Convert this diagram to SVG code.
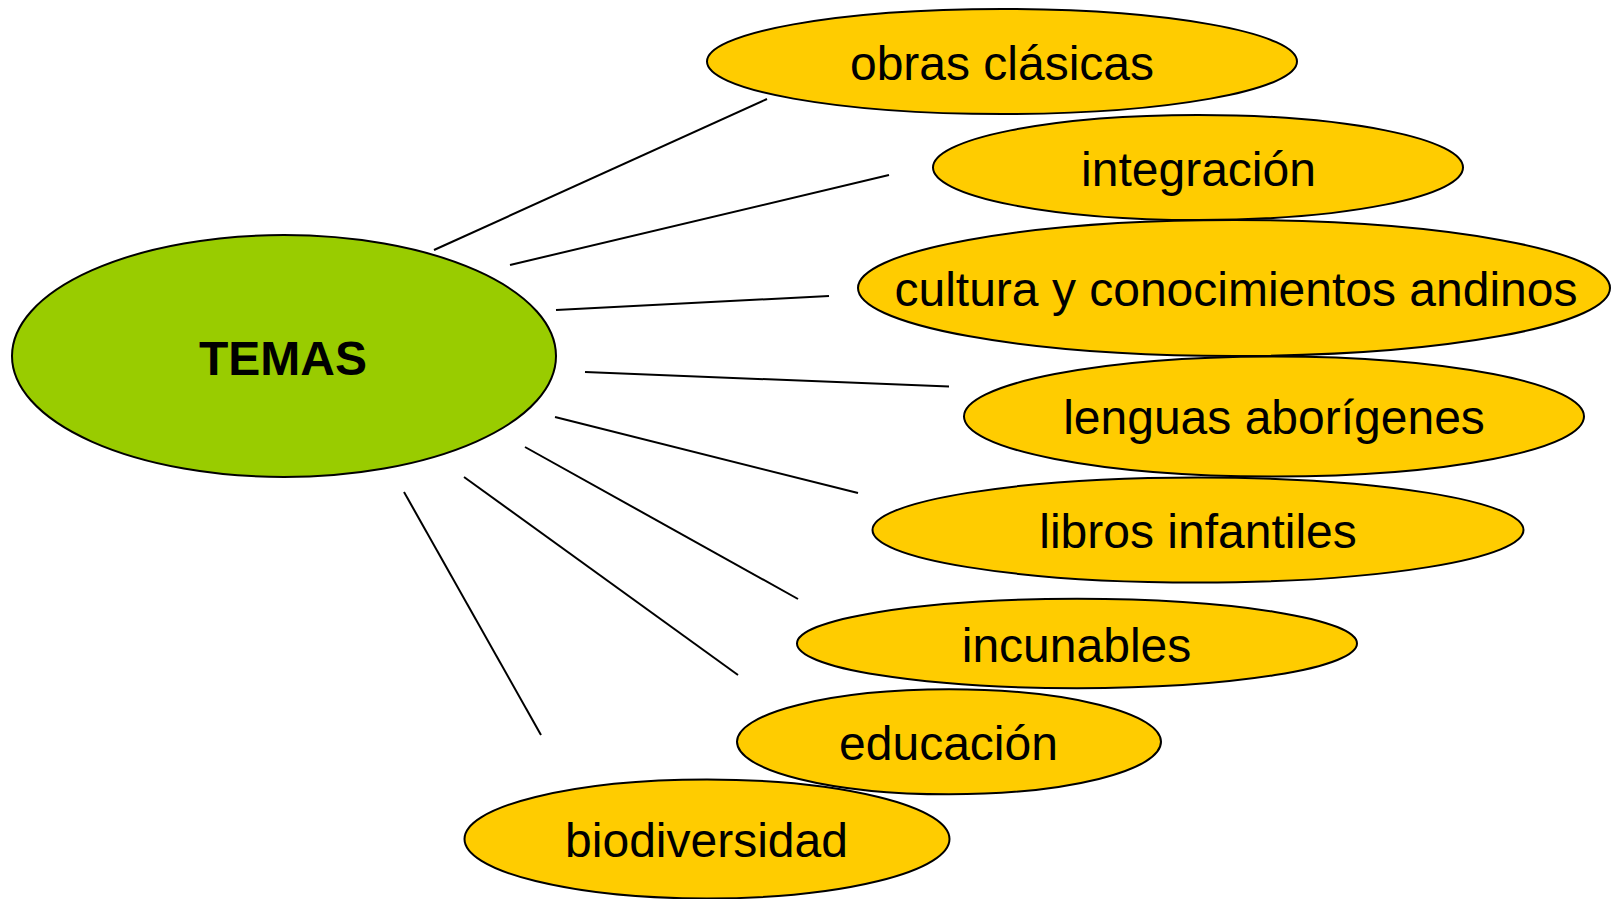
<svg xmlns="http://www.w3.org/2000/svg" width="1611" height="899" viewBox="0 0 1611 899">
<style>
.main{fill:#99CC00;stroke:#000;stroke-width:2}
.sub{fill:#FFCC00;stroke:#000;stroke-width:2}
.t{font-family:"Liberation Sans",Arial,sans-serif;font-size:48px;fill:#000;text-anchor:middle}
.tb{font-family:"Liberation Sans",Arial,sans-serif;font-size:48px;font-weight:bold;fill:#000;text-anchor:middle}
.c line{stroke:#000;stroke-width:2}
</style>
<rect width="1611" height="899" fill="#fff"/>
<g id="connectors" class="c">
<line x1="434" y1="250" x2="767" y2="99"/>
<line x1="510" y1="265" x2="889" y2="175"/>
<line x1="556" y1="310" x2="829" y2="296"/>
<line x1="585" y1="372" x2="949" y2="386.5"/>
<line x1="555" y1="417" x2="858" y2="493"/>
<line x1="525" y1="447" x2="798" y2="599"/>
<line x1="464" y1="477" x2="738" y2="675"/>
<line x1="404" y1="492" x2="541" y2="735"/>
</g>
<g id="temas">
<ellipse class="main" cx="284" cy="356" rx="272" ry="121"/>
<text class="tb" x="283" y="375">TEMAS</text>
</g>
<g id="obras">
<ellipse class="sub" cx="1002" cy="61.5" rx="295" ry="52.5"/>
<text class="t" x="1002" y="80">obras clásicas</text>
</g>
<g id="integracion">
<ellipse class="sub" cx="1198" cy="167.5" rx="265" ry="52.5"/>
<text class="t" x="1198.5" y="186">integración</text>
</g>
<g id="cultura">
<ellipse class="sub" cx="1234" cy="288" rx="376" ry="68"/>
<text class="t" x="1236" y="306">cultura y conocimientos andinos</text>
</g>
<g id="lenguas">
<ellipse class="sub" cx="1274" cy="416.5" rx="310" ry="60"/>
<text class="t" x="1274" y="434">lenguas aborígenes</text>
</g>
<g id="libros">
<ellipse class="sub" cx="1198" cy="530" rx="325.5" ry="52.5"/>
<text class="t" x="1198" y="547.5">libros infantiles</text>
</g>
<g id="incunables">
<ellipse class="sub" cx="1077" cy="643.5" rx="280" ry="44.7"/>
<text class="t" x="1076.5" y="661.5">incunables</text>
</g>
<g id="biodiversidad">
<ellipse class="sub" cx="707" cy="839" rx="242.5" ry="59.5"/>
<text class="t" x="706.5" y="857">biodiversidad</text>
</g>
<g id="educacion">
<ellipse class="sub" cx="949" cy="741.8" rx="212" ry="52.5"/>
<text class="t" x="948.5" y="760">educación</text>
</g>
</svg>
